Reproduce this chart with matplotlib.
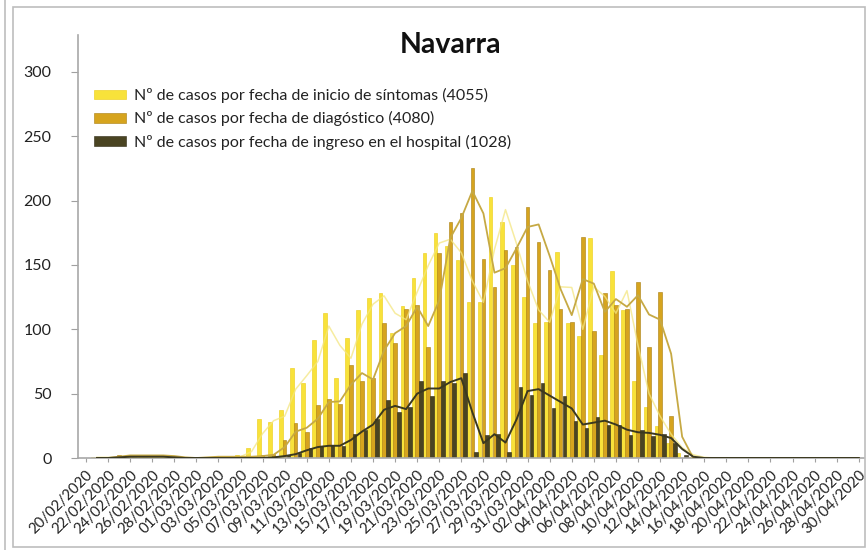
import matplotlib
matplotlib.use('Agg')
import matplotlib.pyplot as plt
import numpy as np
import pandas as pd
from matplotlib.patches import Rectangle
from matplotlib.lines import Line2D

plt.rcParams['font.family'] = ['Lato', 'DejaVu Sans']

dates = pd.date_range('2020-02-20', '2020-04-30', freq='D')
date_labels = [d.strftime('%d/%m/%Y') for d in dates]

sintomas = [0, 1, 0, 1, 1, 0, 1, 0, 0, 0,
            0, 0, 1, 0, 2, 8, 30, 28, 37, 70,
            58, 92, 113, 62, 93, 115, 124, 128, 97, 118,
            140, 159, 175, 165, 154, 121, 121, 203, 183, 150,
            125, 105, 106, 160, 105, 95, 171, 80, 145, 115,
            60, 40, 25, 12, 4, 1, 0, 0, 0, 0,
            0, 0, 0, 0, 0, 0, 0, 0, 0, 0, 0]
diagnostico = [0, 0, 0, 2, 2, 2, 2, 2, 1, 0,
               0, 1, 1, 1, 1, 1, 2, 3, 14, 27,
               20, 41, 46, 42, 72, 60, 62, 105, 89, 116,
               119, 86, 159, 183, 190, 225, 155, 133, 162, 164,
               195, 168, 146, 116, 106, 172, 99, 128, 119, 116,
               137, 86, 129, 33, 0, 0, 0, 0, 0, 0,
               0, 0, 0, 0, 0, 0, 0, 0, 0, 0, 0]
hospital = [0, 0, 0, 1, 1, 1, 1, 1, 0, 0,
            0, 0, 0, 0, 0, 0, 0, 1, 2, 4,
            8, 9, 10, 9, 19, 22, 30, 45, 36, 40,
            60, 48, 60, 58, 66, 5, 18, 19, 5, 55,
            49, 58, 39, 48, 29, 23, 32, 26, 26, 18,
            22, 17, 19, 12, 2, 0, 0, 0, 0, 0,
            0, 0, 0, 0, 0, 0, 0, 0, 0, 0, 0]

labels = ['Nº de casos por fecha de inicio de síntomas (4055)',
          'Nº de casos por fecha de diagóstico (4080)',
          'Nº de casos por fecha de ingreso en el hospital (1028)']
title = 'Navarra'

c_yel, c_ora, c_dark = '#F8E23A', '#D6A41E', '#4A4422'
e_yel, e_ora, e_dark = '#EBCB10', '#A87E10', '#2E2A14'
l_yel, l_ora, l_dark = '#F4E680', '#C6A944', '#3A3820'

W, H = 867, 550
fig = plt.figure(figsize=(W / 100, H / 100), dpi=100)
ax = fig.add_axes([78 / W, 92 / H, (864 - 78) / W, (458 - 35) / H])

x = np.arange(len(dates))
bw = 0.32
ax.bar(x - 0.34, sintomas, width=bw, color=c_yel, edgecolor=e_yel, linewidth=0.4, label=labels[0], zorder=2)
ax.bar(x, diagnostico, width=bw, color=c_ora, edgecolor=e_ora, linewidth=0.4, label=labels[1], zorder=2)
ax.bar(x + 0.34, hospital, width=bw, color=c_dark, edgecolor=e_dark, linewidth=0.4, label=labels[2], zorder=2)

for ser, col, lw, a in [(sintomas, l_yel, 1.1, 0.75), (diagnostico, l_ora, 1.3, 1.0), (hospital, l_dark, 1.4, 1.0)]:
    ma = pd.Series(ser, dtype=float).rolling(2).mean()
    ax.plot(x, ma, color=col, lw=lw, alpha=a, zorder=3)

ax.set_xlim(-0.72, 70.47)
ax.set_ylim(0, 423 / 1.287)
ax.set_yticks(np.arange(0, 301, 50))
ax.set_xticks(x[::2])
ax.set_xticklabels(date_labels[::2], rotation=45, ha='right', va='top',
                   rotation_mode='anchor', fontsize=10.8, color='#222222')
ax.tick_params(axis='y', labelsize=11.5, labelcolor='#222222', length=5, color='#A0A0A0', pad=14)
ax.tick_params(axis='x', length=3, color='#A0A0A0', pad=4)
for s in ['top', 'right']:
    ax.spines[s].set_visible(False)
for s in ['left', 'bottom']:
    ax.spines[s].set_color('#A8A8A8')
    ax.spines[s].set_linewidth(1.2)

fig.text(451 / W, 1 - 45 / H, title, ha='center', va='center', fontsize=20.5, fontweight='bold', color='#111111')

leg = ax.legend(loc='upper left', bbox_to_anchor=(94 / W, 1 - 88 / H), bbox_transform=fig.transFigure,
                frameon=False, fontsize=11.5, borderpad=0, borderaxespad=0,
                handlelength=2.0, handleheight=0.55, handletextpad=0.5, labelspacing=0.52)
for t in leg.get_texts():
    t.set_color('#222222')

fig.add_artist(Rectangle((13 / W, 3 / H), (865 - 13) / W, (543 - 3) / H, transform=fig.transFigure,
                         fill=False, ec='#BDBDBD', lw=1.2))
fig.add_artist(Line2D([5 / W, 5 / W], [0, 1], transform=fig.transFigure, color='#BDBDBD', lw=1.2))

fig.savefig('out.png', dpi=100)
